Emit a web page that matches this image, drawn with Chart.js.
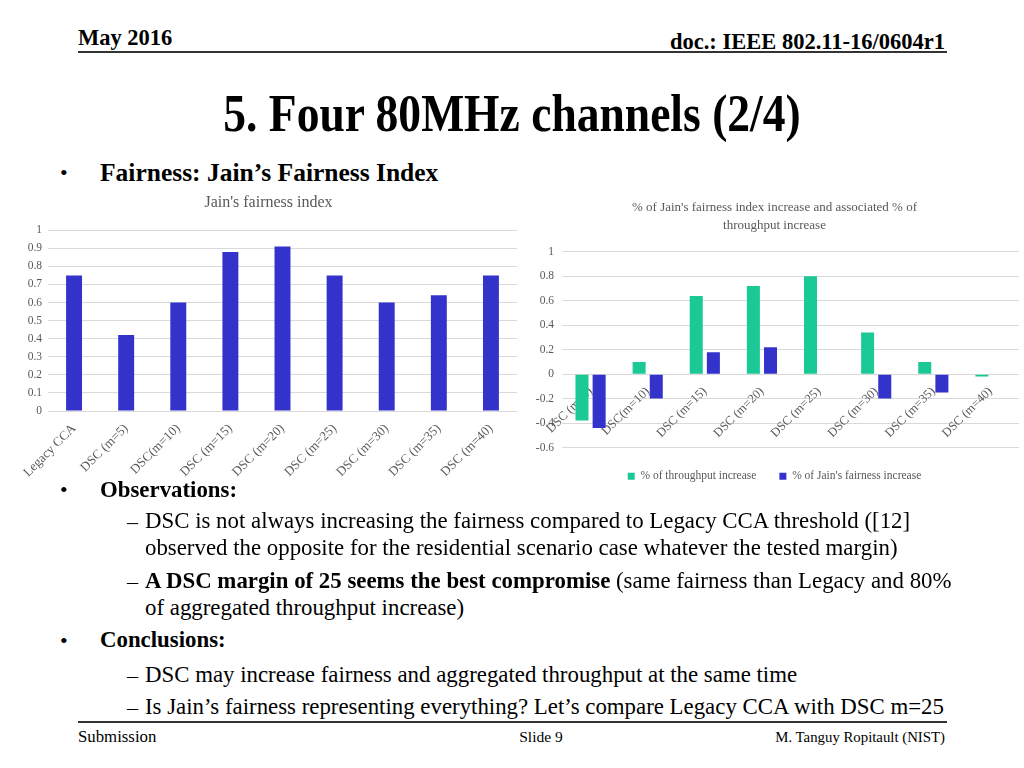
<!DOCTYPE html>
<html>
<head>
<meta charset="utf-8">
<script src="https://cdn.jsdelivr.net/npm/chart.js@4.4.0/dist/chart.umd.min.js"></script>
<style>
  body { margin: 0; background: #fff; }
  #slide { position: relative; width: 1024px; height: 768px; overflow: hidden; font-family: "Liberation Serif", "Times New Roman", serif; color: #000; }
  .t { position: absolute; white-space: nowrap; line-height: 1; }
  .b { font-weight: bold; }
  .body { font-size: 22.85px; }
  .rule { position: absolute; background: #333; }
  canvas { position: absolute; }
</style>
</head>
<body>
<div id="slide">
  <div class="t b" style="left:78px;top:27px;font-size:22.5px;">May 2016</div>
  <div class="t b" style="right:79px;top:31px;font-size:22.5px;">doc.: IEEE 802.11-16/0604r1</div>
  <div class="rule" style="left:78px;top:51px;width:869px;height:2px;"></div>

  <div class="t b" style="left:0;width:1024px;text-align:center;top:88px;font-size:52px;transform:scaleX(0.876);">5. Four 80MHz channels (2/4)</div>

  <canvas id="c1" width="505" height="290" style="left:20px;top:190px;"></canvas>
  <canvas id="c2" width="490" height="302" style="left:530px;top:190px;"></canvas>

  <div class="t" style="left:60px;top:162px;font-size:22px;">•</div>
  <div class="t b" style="left:100px;top:160px;font-size:25.5px;">Fairness: Jain’s Fairness Index</div>

  <div class="t" style="left:60px;top:479px;font-size:22px;">•</div>
  <div class="t b body" style="left:100px;top:479px;">Observations:</div>
  <div class="t" style="left:127px;top:511px;font-size:22px;">–</div>
  <div class="t body" style="left:145px;top:510px;">DSC is not always increasing the fairness compared to Legacy CCA threshold ([12]</div>
  <div class="t body" style="left:145px;top:537px;">observed the opposite for the residential scenario case whatever the tested margin)</div>
  <div class="t" style="left:127px;top:571px;font-size:22px;">–</div>
  <div class="t body" style="left:145px;top:570px;"><b>A DSC margin of 25 seems the best compromise</b> (same fairness than Legacy and 80%</div>
  <div class="t body" style="left:145px;top:597px;">of aggregated throughput increase)</div>

  <div class="t" style="left:60px;top:630px;font-size:22px;">•</div>
  <div class="t b body" style="left:100px;top:629px;">Conclusions:</div>
  <div class="t" style="left:127px;top:665px;font-size:22px;">–</div>
  <div class="t body" style="left:145px;top:664px;">DSC may increase fairness and aggregated throughput at the same time</div>
  <div class="t" style="left:127px;top:697px;font-size:22px;">–</div>
  <div class="t body" style="left:145px;top:696px;">Is Jain’s fairness representing everything? Let’s compare Legacy CCA with DSC m=25</div>

  <div class="rule" style="left:78px;top:721px;width:869px;height:2px;"></div>
  <div class="t" style="left:78px;top:729px;font-size:16.8px;">Submission</div>
  <div class="t" style="left:441px;width:200px;text-align:center;top:729px;font-size:15.5px;">Slide 9</div>
  <div class="t" style="right:79px;top:730px;font-size:14.8px;">M. Tanguy Ropitault (NIST)</div>
</div>

<script>
// chart 1 - Jain's fairness index
var fairCategories = ['Legacy CCA', 'DSC (m=5)', 'DSC(m=10)', 'DSC (m=15)', 'DSC (m=20)', 'DSC (m=25)', 'DSC (m=30)', 'DSC (m=35)', 'DSC (m=40)'];
var fairValues = [0.75, 0.42, 0.60, 0.88, 0.91, 0.75, 0.60, 0.64, 0.75];

// chart 2 - % increase
var incCategories = ['DSC (m=5)', 'DSC(m=10)', 'DSC (m=15)', 'DSC (m=20)', 'DSC (m=25)', 'DSC (m=30)', 'DSC (m=35)', 'DSC (m=40)'];
var throughputInc = [-0.38, 0.10, 0.64, 0.72, 0.80, 0.34, 0.10, -0.02];
var fairnessInc = [-0.44, -0.20, 0.18, 0.22, 0, -0.20, -0.15, 0];

var grey = '#595959';
var gridCol = '#d9d9d9';
var font = 'Liberation Serif';

function tickFmt(v) {
    return String(Math.round(v * 10) / 10);
}

var ctx1 = document.getElementById('c1').getContext('2d');
var chart1 = new Chart(ctx1, {
    type: 'bar',
    data: {
        labels: fairCategories,
        datasets: [{
            label: "Jain's fairness index",
            data: fairValues,
            backgroundColor: '#3333cc',
            categoryPercentage: 0.6,
            barPercentage: 0.51
        }]
    },
    options: {
        responsive: false,
        animation: false,
        layout: { padding: { right: 8 } },
        plugins: {
            legend: { display: false },
            tooltip: { enabled: false },
            title: {
                display: true,
                text: "Jain's fairness index",
                color: grey,
                font: { family: font, size: 16, weight: 'normal' },
                padding: { top: 3, bottom: 18 }
            }
        },
        scales: {
            x: {
                grid: { display: false },
                border: { display: false },
                ticks: { color: grey, font: { family: font, size: 13 }, minRotation: 45, maxRotation: 45, padding: 2 },
                afterFit: function (s) { s.height = 69; }
            },
            y: {
                min: 0, max: 1,
                grid: { color: gridCol, drawTicks: false },
                border: { display: false },
                ticks: { stepSize: 0.1, color: grey, font: { family: font, size: 11.5 }, padding: 6, callback: tickFmt },
                afterFit: function (s) { s.width = 28; }
            }
        }
    }
});

var ctx2 = document.getElementById('c2').getContext('2d');
var chart2 = new Chart(ctx2, {
    type: 'bar',
    data: {
        labels: incCategories,
        datasets: [{
            label: '% of throughput increase',
            data: throughputInc,
            backgroundColor: '#1bc996',
            categoryPercentage: 0.6,
            barPercentage: 0.76
        }, {
            label: "% of Jain's fairness increase",
            data: fairnessInc,
            backgroundColor: '#3333cc',
            categoryPercentage: 0.6,
            barPercentage: 0.76
        }]
    },
    options: {
        responsive: false,
        animation: false,
        layout: { padding: { right: 1 } },
        plugins: {
            tooltip: { enabled: false },
            title: {
                display: true,
                text: ["% of Jain's fairness index increase and associated % of", 'throughput increase'],
                color: grey,
                font: { family: font, size: 13, weight: 'normal', lineHeight: 1.38 },
                padding: { top: 9, bottom: 17 }
            },
            legend: {
                position: 'bottom',
                labels: { color: grey, font: { family: font, size: 11.5 }, boxWidth: 7, boxHeight: 7, padding: 23 }
            }
        },
        scales: {
            x: {
                position: { y: 0 },
                grid: { display: false },
                border: { display: false },
                ticks: { color: grey, font: { family: font, size: 12.5 }, minRotation: 45, maxRotation: 45, padding: 2 }
            },
            y: {
                min: -0.6, max: 1,
                grid: { color: gridCol, drawTicks: false },
                border: { display: false },
                ticks: { stepSize: 0.2, color: grey, font: { family: font, size: 11.5 }, padding: 8, callback: tickFmt },
                afterFit: function (s) { s.width = 32; }
            }
        }
    }
});
</script>
</body>
</html>
